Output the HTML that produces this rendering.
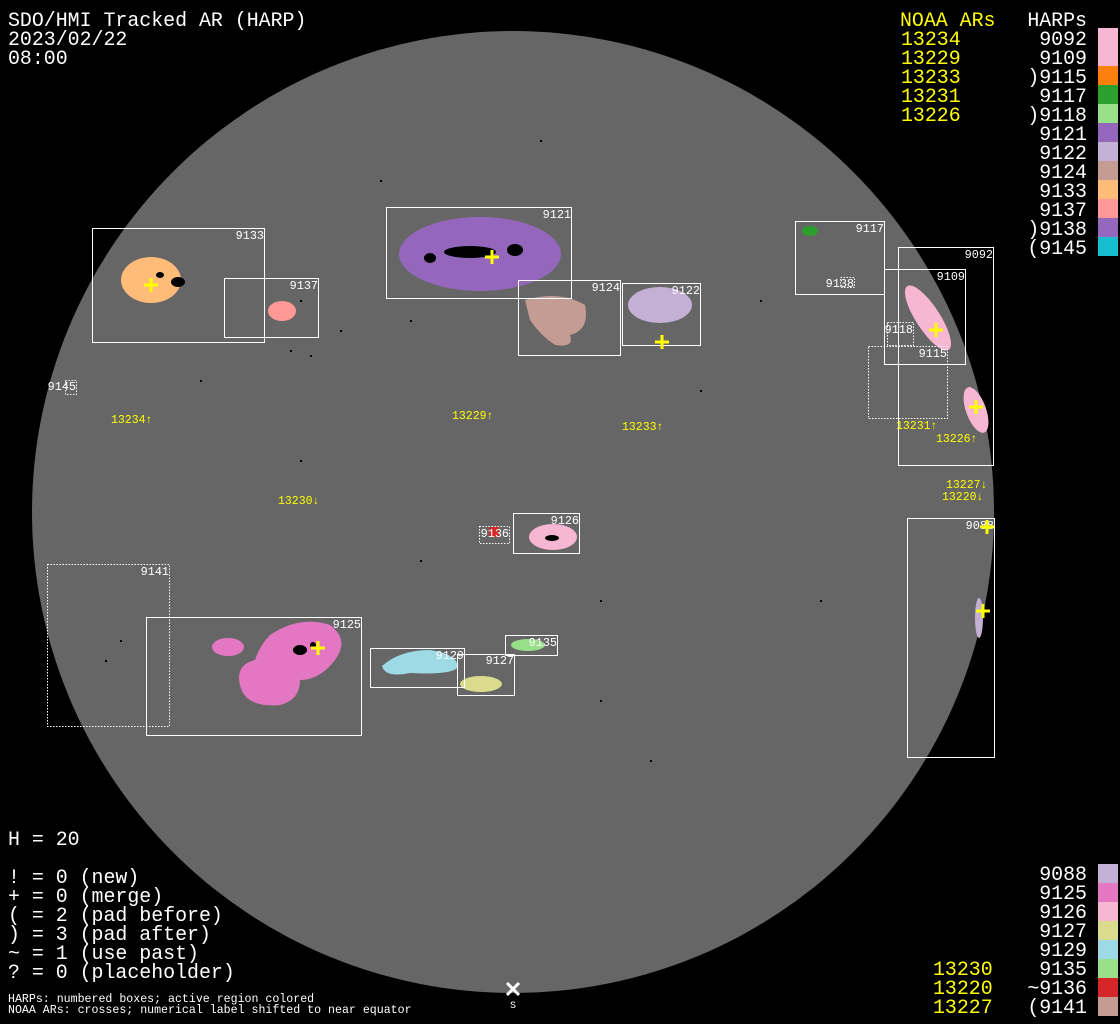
<!DOCTYPE html>
<html><head><meta charset="utf-8"><style>
html,body{margin:0;padding:0;background:#000;}
svg{display:block}
.t{font-family:"Liberation Mono","DejaVu Sans Mono",monospace;}
</style></head><body>
<svg width="1120" height="1024" viewBox="0 0 1120 1024" xmlns="http://www.w3.org/2000/svg">
<rect width="1120" height="1024" fill="#000"/>
<circle cx="513" cy="512" r="481" fill="#666"/>

<g fill="#000">
<rect x="300" y="300" width="2" height="2"/><rect x="340" y="330" width="2" height="2"/><rect x="410" y="320" width="2" height="2"/>
<rect x="700" y="390" width="2" height="2"/><rect x="760" y="300" width="2" height="2"/><rect x="200" y="380" width="2" height="2"/>
<rect x="120" y="640" width="2" height="2"/><rect x="105" y="660" width="2" height="2"/><rect x="600" y="600" width="2" height="2"/>
<rect x="650" y="760" width="2" height="2"/><rect x="420" y="560" width="2" height="2"/><rect x="300" y="460" width="2" height="2"/>
<rect x="820" y="600" width="2" height="2"/><rect x="540" y="140" width="2" height="2"/><rect x="380" y="180" width="2" height="2"/>
<rect x="290" y="350" width="2" height="2"/><rect x="310" y="355" width="2" height="2"/><rect x="600" y="700" width="2" height="2"/>
</g>

<ellipse cx="151" cy="280" rx="30" ry="23" fill="#ffbb78"/>
<ellipse cx="282" cy="311" rx="14" ry="10" fill="#ff9896"/>
<ellipse cx="480" cy="254" rx="81" ry="37" fill="#9467bd"/>
<path d="M525 300 Q560 290 585 305 Q590 330 570 335 Q575 348 555 345 Q540 335 530 320 Z" fill="#c49c94"/>
<ellipse cx="660" cy="305" rx="32" ry="18" fill="#c5b0d5"/>
<ellipse cx="810" cy="231" rx="8" ry="5" fill="#2ca02c"/>
<ellipse cx="928" cy="318" rx="12" ry="38" transform="rotate(-33 928 318)" fill="#f7b6d2"/>
<ellipse cx="976" cy="410" rx="10" ry="24" transform="rotate(-20 976 410)" fill="#f7b6d2"/>
<ellipse cx="553" cy="537" rx="24" ry="13" fill="#f7b6d2"/>
<ellipse cx="979" cy="618" rx="4" ry="20" fill="#c5b0d5"/>
<rect x="489" y="527" width="10" height="10" fill="#d62728"/>
<ellipse cx="228" cy="647" rx="16" ry="9" fill="#e377c2"/>
<path d="M270 635 Q300 615 330 625 Q350 640 335 660 Q320 680 300 680 Q300 700 280 705 Q245 708 240 685 Q235 665 255 660 Q260 645 270 635Z" fill="#e377c2"/>
<path d="M382 666 Q400 650 430 650 Q460 655 457 668 Q450 675 410 673 Q385 678 382 666Z" fill="#9edae5"/>
<ellipse cx="481" cy="684" rx="21" ry="8" fill="#dbdb8d"/>
<ellipse cx="528" cy="645" rx="17" ry="6" fill="#98df8a"/>

<g fill="#000">
<ellipse cx="178" cy="282" rx="7" ry="5"/><ellipse cx="160" cy="275" rx="4" ry="3"/>
<ellipse cx="470" cy="252" rx="26" ry="6"/><ellipse cx="515" cy="250" rx="8" ry="6"/><ellipse cx="430" cy="258" rx="6" ry="5"/>
<ellipse cx="552" cy="538" rx="7" ry="3"/><ellipse cx="300" cy="650" rx="7" ry="5"/><ellipse cx="313" cy="645" rx="3" ry="3"/>
</g>

<g fill="none" stroke="#fff" stroke-width="1">
<rect x="92.5" y="228.5" width="172" height="114"/>
<rect x="224.5" y="278.5" width="94" height="59"/>
<rect x="386.5" y="207.5" width="185" height="91"/>
<rect x="518.5" y="280.5" width="102" height="75"/>
<rect x="622.5" y="283.5" width="78" height="62"/>
<rect x="795.5" y="221.5" width="89" height="73"/>
<rect x="898.5" y="247.5" width="95" height="218"/>
<rect x="884.5" y="269.5" width="81" height="95"/>
<rect x="513.5" y="513.5" width="66" height="40"/>
<rect x="907.5" y="518.5" width="87" height="239"/>
<rect x="146.5" y="617.5" width="215" height="118"/>
<rect x="370.5" y="648.5" width="94" height="39"/>
<rect x="457.5" y="654.5" width="57" height="41"/>
<rect x="505.5" y="635.5" width="52" height="20"/>
</g>
<g fill="none" stroke="#fff" stroke-width="1" stroke-dasharray="1.5,1.5">
<rect x="840.5" y="277.5" width="14" height="10"/>
<rect x="887.5" y="322.5" width="26" height="23"/>
<rect x="868.5" y="346.5" width="79" height="72"/>
<rect x="65.5" y="380.5" width="11" height="14"/>
<rect x="479.5" y="526.5" width="30" height="17"/>
<rect x="47.5" y="564.5" width="122" height="162"/>
</g>

<g class="t" fill="#fff" font-size="11.8" text-anchor="end">
<text x="264" y="239">9133</text><text x="318" y="289">9137</text><text x="571" y="218">9121</text>
<text x="620" y="291">9124</text><text x="700" y="294">9122</text><text x="884" y="232">9117</text>
<text x="854" y="287">9138</text><text x="993" y="258">9092</text><text x="965" y="280">9109</text>
<text x="913" y="333">9118</text><text x="947" y="357">9115</text><text x="76" y="390">9145</text>
<text x="579" y="524">9126</text><text x="509" y="537">9136</text><text x="994" y="529">9088</text>
<text x="169" y="575">9141</text><text x="361" y="628">9125</text><text x="464" y="659">9129</text>
<text x="514" y="664">9127</text><text x="557" y="646">9135</text>
</g>

<g stroke="#ff0" stroke-width="3" fill="none">
<path d="M144 285h14M151 278v14"/><path d="M485 257h14M492 250v14"/><path d="M655 342h14M662 335v14"/>
<path d="M929 330h14M936 323v14"/><path d="M969 407h14M976 400v14"/><path d="M980 527h14M987 520v14"/>
<path d="M976 611h14M983 604v14"/><path d="M311 648h14M318 641v14"/>
</g>

<g class="t" fill="#ff0" font-size="11.5">
<text x="111" y="423">13234↑</text><text x="452" y="419">13229↑</text><text x="622" y="430">13233↑</text>
<text x="278" y="504">13230↓</text><text x="896" y="429">13231↑</text><text x="936" y="442">13226↑</text>
<text x="946" y="488">13227↓</text><text x="942" y="500">13220↓</text>
</g>
<path d="M507 983l12 12M519 983l-12 12" stroke="#fff" stroke-width="3"/>
<text class="t" x="513" y="1008" fill="#fff" font-size="10" text-anchor="middle">S</text>

<g class="t" fill="#fff" font-size="19.9">
<text x="8" y="26">SDO/HMI Tracked AR (HARP)</text>
<text x="8" y="45">2023/02/22</text>
<text x="8" y="64">08:00</text>
<text x="8" y="845">H = 20</text>
<text x="8" y="883">! = 0 (new)</text>
<text x="8" y="902">+ = 0 (merge)</text>
<text x="8" y="921">( = 2 (pad before)</text>
<text x="8" y="940">) = 3 (pad after)</text>
<text x="8" y="959">~ = 1 (use past)</text>
<text x="8" y="978">? = 0 (placeholder)</text>
</g>
<g class="t" fill="#fff" font-size="11.6">
<text x="8" y="1002">HARPs: numbered boxes; active region colored</text>
<text x="8" y="1013">NOAA ARs: crosses; numerical label shifted to near equator</text>
</g>

<g class="t" font-size="19.9">
<text x="900" y="26" fill="#ff0">NOAA ARs</text>
<g fill="#ff0"><text x="901" y="45">13234</text><text x="901" y="64">13229</text><text x="901" y="83">13233</text><text x="901" y="102">13231</text><text x="901" y="121">13226</text></g>
<g fill="#fff" text-anchor="end">
<text x="1087" y="26">HARPs</text>
<text x="1087" y="45">9092</text><text x="1087" y="64">9109</text><text x="1087" y="83">)9115</text><text x="1087" y="102">9117</text>
<text x="1087" y="121">)9118</text><text x="1087" y="140">9121</text><text x="1087" y="159">9122</text><text x="1087" y="178">9124</text>
<text x="1087" y="197">9133</text><text x="1087" y="216">9137</text><text x="1087" y="235">)9138</text><text x="1087" y="254">(9145</text>
</g>
</g>
<g>
<rect x="1098" y="28" width="20" height="38" fill="#f7b6d2"/>
<rect x="1098" y="66" width="20" height="19" fill="#ff7f0e"/>
<rect x="1098" y="85" width="20" height="19" fill="#2ca02c"/>
<rect x="1098" y="104" width="20" height="19" fill="#98df8a"/>
<rect x="1098" y="123" width="20" height="19" fill="#9467bd"/>
<rect x="1098" y="142" width="20" height="19" fill="#c5b0d5"/>
<rect x="1098" y="161" width="20" height="19" fill="#c49c94"/>
<rect x="1098" y="180" width="20" height="19" fill="#ffbb78"/>
<rect x="1098" y="199" width="20" height="19" fill="#ff9896"/>
<rect x="1098" y="218" width="20" height="19" fill="#9467bd"/>
<rect x="1098" y="237" width="20" height="19" fill="#17becf"/>
</g>

<g class="t" font-size="19.9">
<g fill="#fff" text-anchor="end">
<text x="1087" y="880">9088</text><text x="1087" y="899">9125</text><text x="1087" y="918">9126</text><text x="1087" y="937">9127</text>
<text x="1087" y="956">9129</text><text x="1087" y="975">9135</text><text x="1087" y="994">~9136</text><text x="1087" y="1013">(9141</text>
</g>
<g fill="#ff0"><text x="933" y="975">13230</text><text x="933" y="994">13220</text><text x="933" y="1013">13227</text></g>
</g>
<rect x="1098" y="864" width="20" height="19" fill="#c5b0d5"/>
<rect x="1098" y="883" width="20" height="19" fill="#e377c2"/>
<rect x="1098" y="902" width="20" height="19" fill="#f7b6d2"/>
<rect x="1098" y="921" width="20" height="19" fill="#dbdb8d"/>
<rect x="1098" y="940" width="20" height="19" fill="#9edae5"/>
<rect x="1098" y="959" width="20" height="19" fill="#98df8a"/>
<rect x="1098" y="978" width="20" height="19" fill="#d62728"/>
<rect x="1098" y="997" width="20" height="19" fill="#c49c94"/>
</svg>
</body></html>
